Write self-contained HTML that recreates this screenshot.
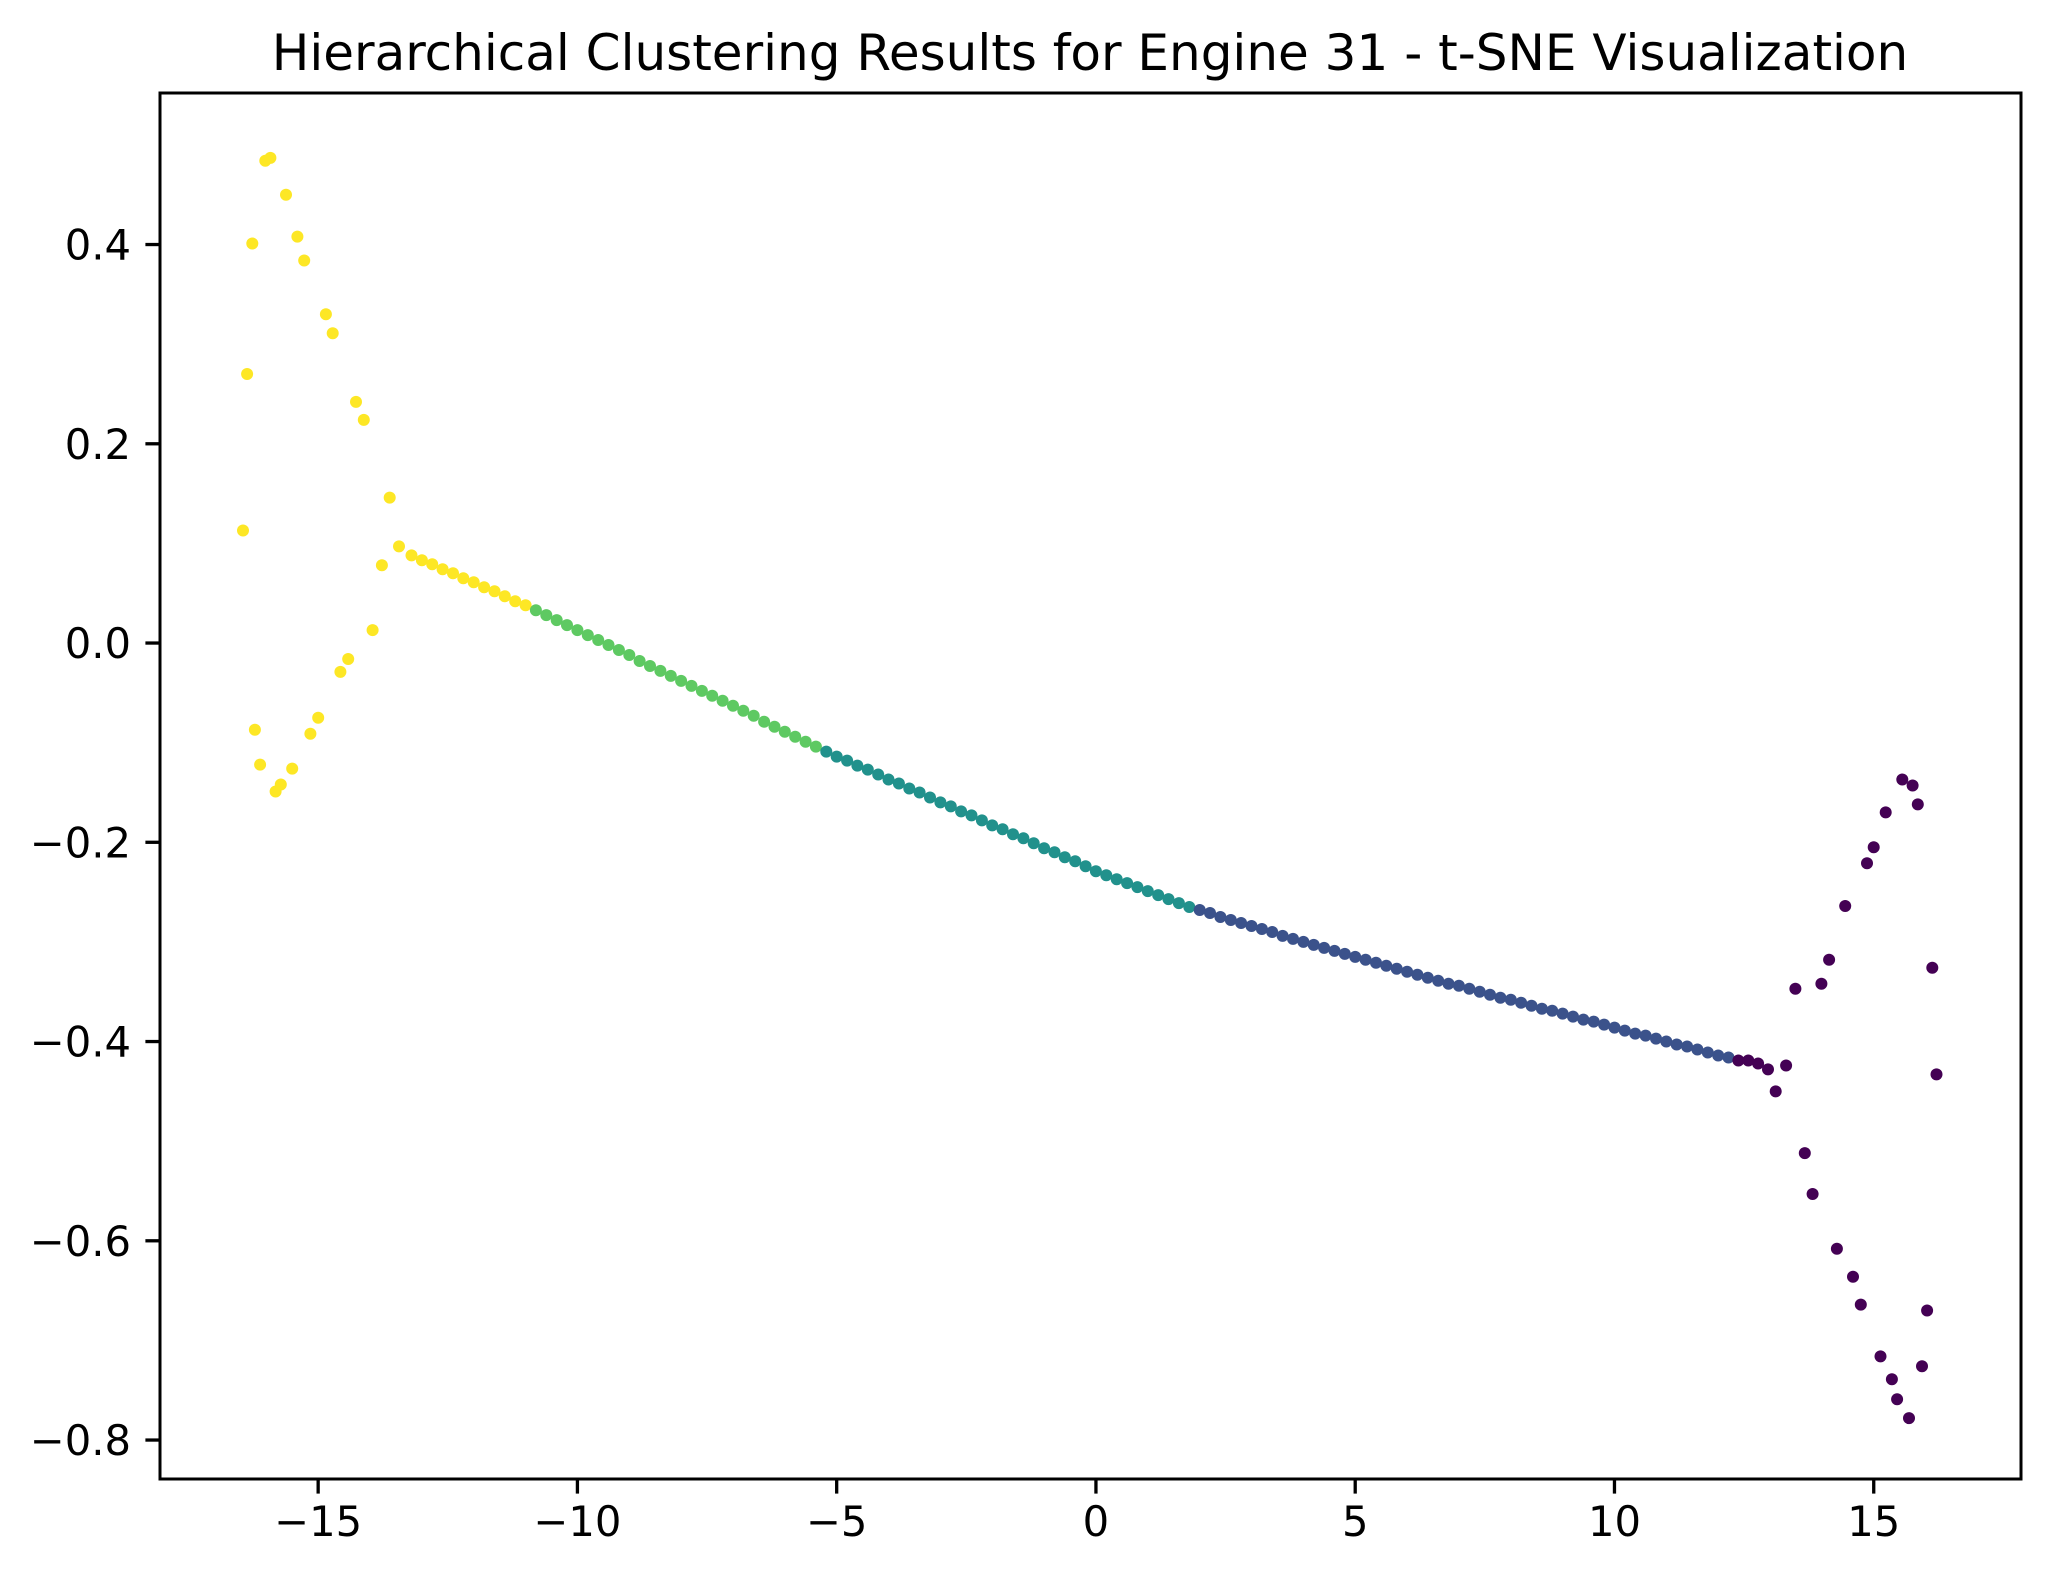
<!DOCTYPE html>
<html>
<head>
<meta charset="utf-8">
<style>
  html,body{margin:0;padding:0;background:#fff;}
  svg{display:block;}
  text{font-family:"DejaVu Sans","Liberation Sans",sans-serif;fill:#000;}
</style>
</head>
<body>
<svg id="chart" width="2050" height="1580" viewBox="0 0 2050 1580" xmlns="http://www.w3.org/2000/svg">
  <rect x="0" y="0" width="2050" height="1580" fill="#ffffff"/>
  <text x="1090" y="70" font-size="50" text-anchor="middle">Hierarchical Clustering Results for Engine 31 - t-SNE Visualization</text>
  <g id="points"></g>
  <g id="xticks"></g>
  <g id="yticks"></g>
  <rect x="160" y="93" width="1861" height="1386" fill="none" stroke="#000" stroke-width="3"/>
</svg>
<script>
// ---- data ----
const outlierX = [-16.45,-16.37,-16.27,-16.22,-16.12,-16.02,-15.92,-15.82,-15.72,-15.62,-15.50,-15.40,-15.27,-15.15,-15.00,-14.85,-14.72,-14.57,-14.42,-14.27,-14.12,-13.95,-13.77,-13.62,-13.44,
  13.11,13.31,13.49,13.67,13.82,13.99,14.14,14.29,14.45,14.60,14.75,14.87,15.00,15.13,15.23,15.35,15.45,15.55,15.68,15.75,15.85,15.93,16.03,16.13,16.21];
const outlierY = [0.113,0.270,0.401,-0.087,-0.122,0.484,0.487,-0.149,-0.142,0.450,-0.126,0.408,0.384,-0.091,-0.075,0.330,0.311,-0.029,-0.016,0.242,0.224,0.013,0.078,0.146,0.097,
  -0.450,-0.424,-0.347,-0.512,-0.553,-0.342,-0.318,-0.608,-0.264,-0.636,-0.664,-0.221,-0.205,-0.716,-0.170,-0.739,-0.759,-0.137,-0.778,-0.143,-0.162,-0.726,-0.670,-0.326,-0.433];
const outlierCluster = [4,4,4,4,4,4,4,4,4,4,4,4,4,4,4,4,4,4,4,4,4,4,4,4,4,
  0,0,0,0,0,0,0,0,0,0,0,0,0,0,0,0,0,0,0,0,0,0,0,0,0];

const curveX = [-13.2,-13.0,-12.8,-12.6,-12.4,-12.2,-12.0,-11.8,-11.6,-11.4,-11.2,-11.0,
  -10.8,-10.6,-10.4,-10.2,-10.0,-9.8,-9.6,-9.4,-9.2,-9.0,-8.8,-8.6,-8.4,-8.2,-8.0,-7.8,-7.6,-7.4,-7.2,-7.0,-6.8,-6.6,-6.4,-6.2,-6.0,-5.8,-5.6,-5.4,
  -5.2,-5.0,-4.8,-4.6,-4.4,-4.2,-4.0,-3.8,-3.6,-3.4,-3.2,-3.0,-2.8,-2.6,-2.4,-2.2,-2.0,-1.8,-1.6,-1.4,-1.2,-1.0,-0.8,-0.6,-0.4,-0.2,0.0,
  0.2,0.4,0.6,0.8,1.0,1.2,1.4,1.6,1.8,
  2.0,2.2,2.4,2.6,2.8,3.0,3.2,3.4,3.6,3.8,4.0,4.2,4.4,4.6,4.8,5.0,5.2,5.4,5.6,5.8,6.0,6.2,6.4,6.6,
  6.8,7.0,7.2,7.4,7.6,7.8,8.0,8.2,8.4,8.6,8.8,9.0,9.2,9.4,9.6,9.8,10.0,10.2,10.4,10.6,10.8,11.0,11.2,11.4,11.6,11.8,12.0,12.2,
  12.39,12.58,12.77,12.96];
const curveY = [0.088,0.083,0.079,0.074,0.070,0.065,0.061,0.056,0.052,0.047,0.042,0.038,
  0.033,0.028,0.023,0.018,0.013,0.008,0.003,-0.002,-0.007,-0.012,-0.018,-0.023,-0.028,-0.033,-0.038,-0.043,-0.048,-0.053,-0.058,-0.063,-0.068,-0.073,-0.079,-0.084,-0.089,-0.094,-0.099,-0.104,
  -0.109,-0.114,-0.118,-0.123,-0.127,-0.132,-0.137,-0.141,-0.146,-0.150,-0.155,-0.160,-0.164,-0.169,-0.173,-0.178,-0.183,-0.187,-0.192,-0.196,-0.201,-0.206,-0.210,-0.215,-0.219,-0.224,-0.229,
  -0.233,-0.237,-0.241,-0.245,-0.249,-0.253,-0.257,-0.261,-0.265,
  -0.268,-0.271,-0.275,-0.278,-0.281,-0.284,-0.287,-0.290,-0.294,-0.297,-0.300,-0.303,-0.306,-0.309,-0.312,-0.315,-0.318,-0.321,-0.324,-0.327,-0.330,-0.333,-0.336,-0.339,
  -0.342,-0.344,-0.347,-0.350,-0.353,-0.356,-0.358,-0.361,-0.364,-0.367,-0.369,-0.372,-0.375,-0.378,-0.380,-0.383,-0.386,-0.389,-0.392,-0.394,-0.397,-0.400,-0.403,-0.405,-0.408,-0.411,-0.414,-0.416,
  -0.419,-0.419,-0.422,-0.428];
const curveCluster = [4,4,4,4,4,4,4,4,4,4,4,4,
  3,3,3,3,3,3,3,3,3,3,3,3,3,3,3,3,3,3,3,3,3,3,3,3,3,3,3,3,
  2,2,2,2,2,2,2,2,2,2,2,2,2,2,2,2,2,2,2,2,2,2,2,2,2,2,2,
  2,2,2,2,2,2,2,2,2,
  1,1,1,1,1,1,1,1,1,1,1,1,1,1,1,1,1,1,1,1,1,1,1,1,
  1,1,1,1,1,1,1,1,1,1,1,1,1,1,1,1,1,1,1,1,1,1,1,1,1,1,1,1,
  0,0,0,0];

const clusterColors = ["#440154","#3b528b","#21918c","#5ec962","#fde725"];
const xTickValues = [-15,-10,-5,0,5,10,15];
const xTickLabels = ["\u221215","\u221210","\u22125","0","5","10","15"];
const yTickValues = [-0.8,-0.6,-0.4,-0.2,0.0,0.2,0.4];
const yTickLabels = ["\u22120.8","\u22120.6","\u22120.4","\u22120.2","0.0","0.2","0.4"];

// ---- axes ----
const X0 = 160, X1 = 2021, Y0 = 93, Y1 = 1479;
const xMin = -18.05, xMax = 17.84, yMin = -0.8391, yMax = 0.5521;
function sx(v){ return X0 + (v - xMin) / (xMax - xMin) * (X1 - X0); }
function sy(v){ return Y1 - (v - yMin) / (yMax - yMin) * (Y1 - Y0); }

const NS = "http://www.w3.org/2000/svg";
const gp = document.getElementById("points");
function drawPoints(xs, ys, cs, label){
  for (let i = 0; i < xs.length; i++){
    const c = document.createElementNS(NS, "circle");
    c.setAttribute("cx", sx(xs[i]).toFixed(1));
    c.setAttribute("cy", sy(ys[i]).toFixed(1));
    c.setAttribute("r", "6");
    c.setAttribute("fill", clusterColors[cs[i]]);
    
    
    gp.appendChild(c);
  }
}
drawPoints(curveX, curveY, curveCluster, "curve-point");
drawPoints(outlierX, outlierY, outlierCluster, "scatter-point");

const gx = document.getElementById("xticks");
for (let i = 0; i < xTickValues.length; i++){
  const x = sx(xTickValues[i]);
  const l = document.createElementNS(NS, "line");
  l.setAttribute("x1", x); l.setAttribute("x2", x);
  l.setAttribute("y1", Y1); l.setAttribute("y2", Y1 + 14.6);
  l.setAttribute("stroke", "#000"); l.setAttribute("stroke-width", "3.3");
  
  
  gx.appendChild(l);
  const t = document.createElementNS(NS, "text");
  t.setAttribute("x", x); t.setAttribute("y", Y1 + 57);
  t.setAttribute("font-size", "41.7"); t.setAttribute("text-anchor", "middle");
  t.textContent = xTickLabels[i];
  
  
  gx.appendChild(t);
}
const gy = document.getElementById("yticks");
for (let i = 0; i < yTickValues.length; i++){
  const y = sy(yTickValues[i]);
  const l = document.createElementNS(NS, "line");
  l.setAttribute("x1", X0 - 14.6); l.setAttribute("x2", X0);
  l.setAttribute("y1", y); l.setAttribute("y2", y);
  l.setAttribute("stroke", "#000"); l.setAttribute("stroke-width", "3.3");
  
  
  gy.appendChild(l);
  const t = document.createElementNS(NS, "text");
  t.setAttribute("x", X0 - 29); t.setAttribute("y", y + 15);
  t.setAttribute("font-size", "41.7"); t.setAttribute("text-anchor", "end");
  t.textContent = yTickLabels[i];
  
  
  gy.appendChild(t);
}
</script>
</body>
</html>
